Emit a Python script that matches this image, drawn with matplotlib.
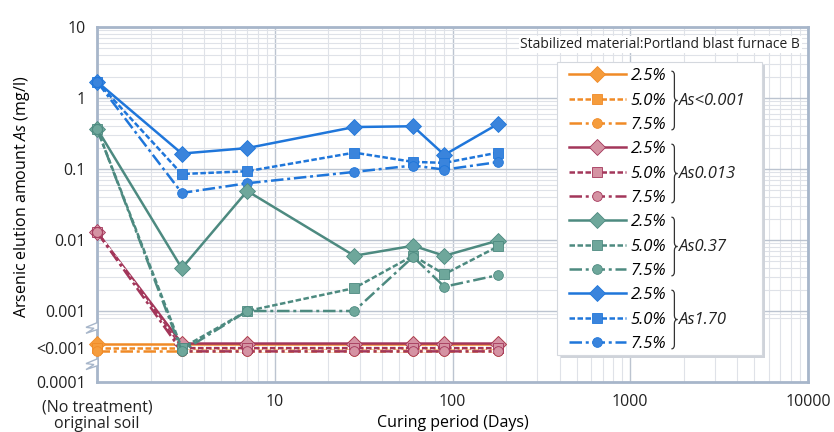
import numpy as np
import matplotlib
matplotlib.use('Agg')
import matplotlib.pyplot as plt
from matplotlib.path import Path
from matplotlib.patches import PathPatch, Rectangle, Polygon
from matplotlib.ticker import FixedLocator, NullFormatter
from matplotlib.transforms import blended_transform_factory

plt.rcParams['font.family'] = ['Open Sans', 'DejaVu Sans']
plt.rcParams['mathtext.fontset'] = 'custom'
plt.rcParams['mathtext.it'] = 'Open Sans:italic'
plt.rcParams['mathtext.rm'] = 'Open Sans'

# "<0.001" results are drawn at this height on the broken log axis
LT = 3e-4

days = [1, 3, 7, 28, 60, 90, 180]
doses = ['2.5%', '5.0%', '7.5%']
groups = ['As<0.001', 'As0.013', 'As0.37', 'As1.70']

# original soil As<0.001
as_lt001_25 = [LT, LT, LT, LT, LT, LT, LT]
as_lt001_50 = [LT, LT, LT, LT, LT, LT, LT]
as_lt001_75 = [LT, LT, LT, LT, LT, LT, LT]
# original soil As0.013
as0013_25 = [0.013, LT, LT, LT, LT, LT, LT]
as0013_50 = [0.013, LT, LT, LT, LT, LT, LT]
as0013_75 = [0.013, LT, LT, LT, LT, LT, LT]
# original soil As0.37
as037_25 = [0.37, 0.004, 0.049, 0.006, 0.0083, 0.006, 0.0098]
as037_50 = [0.37, LT, 0.001, 0.0021, 0.006, 0.0033, 0.0081]
as037_75 = [0.37, LT, 0.001, 0.001, 0.0058, 0.0022, 0.0032]
# original soil As1.70
as170_25 = [1.70, 0.165, 0.197, 0.39, 0.40, 0.158, 0.43]
as170_50 = [1.70, 0.085, 0.093, 0.17, 0.126, 0.122, 0.17]
as170_75 = [1.70, 0.046, 0.063, 0.091, 0.112, 0.098, 0.125]

series = {
    'As<0.001': [as_lt001_25, as_lt001_50, as_lt001_75],
    'As0.013': [as0013_25, as0013_50, as0013_75],
    'As0.37': [as037_25, as037_50, as037_75],
    'As1.70': [as170_25, as170_50, as170_75],
}

line_col = {'As<0.001': '#f08a26', 'As0.013': '#a3365a',
            'As0.37': '#4d8a80', 'As1.70': '#1f76da'}
face_col = {'As<0.001': '#f59c3c', 'As0.013': '#d593a3',
            'As0.37': '#6ea79b', 'As1.70': '#3a84dc'}
dose_style = [
    dict(ls='-', marker='D', ms=8.5),
    dict(ls=(0, (2.2, 1.0)), marker='s', ms=7),
    dict(ls=(0, (5, 1.5, 1.2, 1.5)), marker='o', ms=7),
]
# small visual offset so the overlapping "<0.001" lines stay readable
lt_nudge = [1.16, 1.0, 0.9]

fig = plt.figure(figsize=(8.34, 4.32), dpi=100)
ax = fig.add_axes([97 / 834, 1 - 382 / 432, 711 / 834, 355 / 432])

handles = {}
for g in ['As<0.001', 'As0.013', 'As1.70', 'As0.37']:
    for i, vals in enumerate(series[g]):
        v = np.array(vals, dtype=float)
        y = np.where(v == LT, LT * lt_nudge[i], v)
        st = dose_style[i]
        kw = {}
        if g == 'As0.013' and i > 0:
            kw['gapcolor'] = 'white'
        ln, = ax.plot(days, y, ls=st['ls'], marker=st['marker'], ms=st['ms'],
                      color=line_col[g], mfc=face_col[g], mec=line_col[g],
                      mew=0.6, lw=1.8, zorder=3, clip_on=False, **kw)
        handles[(g, i)] = ln

ax.set_xscale('log')
ax.set_yscale('log')
ax.set_xlim(1, 10000)
ax.set_ylim(1e-4, 10)

ax.xaxis.set_major_locator(FixedLocator([1, 10, 100, 1000, 10000]))
ax.set_xticklabels(['', '10', '100', '1000', '10000'])
ax.xaxis.set_minor_locator(FixedLocator([m * 10 ** k for k in range(4) for m in range(2, 10)]))
ax.xaxis.set_minor_formatter(NullFormatter())

ax.yaxis.set_major_locator(FixedLocator([1e-4, LT, 1e-3, 1e-2, 1e-1, 1, 10]))
ax.set_yticklabels(['0.0001', '<0.001', '0.001', '0.01', '0.1', '1', '10'])
ax.yaxis.set_minor_locator(FixedLocator([8e-4, 9e-4] + [m * 10.0 ** k for k in range(-3, 1) for m in range(2, 10)]))
ax.yaxis.set_minor_formatter(NullFormatter())

ax.tick_params(which='both', length=0, labelsize=11.5, colors='#222222')
ax.tick_params(axis='y', pad=8)
ax.tick_params(axis='x', pad=9)
ax.grid(which='minor', color='#dfe2e8', lw=0.8)
ax.grid(which='major', color='#bcc4d0', lw=1.0)
for gl, yv in zip(ax.yaxis.get_gridlines(), [1e-4, LT, 1e-3, 1e-2, 1e-1, 1, 10]):
    if yv in (1e-4, LT):
        gl.set_visible(False)
ax.set_axisbelow(True)
for s in ax.spines.values():
    s.set_color('#a7b6ca')
    s.set_linewidth(2.0)

# first x position is the untreated original soil
ax.text(1, -0.048, '(No treatment)\noriginal soil',
        transform=blended_transform_factory(ax.transData, ax.transAxes),
        ha='center', va='top', fontsize=11.5, color='#222222', linespacing=1.12)

ax.set_xlabel('Curing period (Days)', fontsize=11.5)
ax.xaxis.set_label_coords(0.5, -0.094)
ax.set_ylabel('Arsenic elution amount $\\it{As}$ (mg/l)', fontsize=11.5)
ax.yaxis.set_label_coords(-0.092, 0.52)

ax.text(0.989, 0.951, 'Stabilized material:Portland blast furnace B', transform=ax.transAxes,
        ha='right', va='center', fontsize=10, color='#222222', zorder=6,
        bbox=dict(facecolor='white', edgecolor='none', pad=1))

# legend panel
ax.add_patch(Rectangle((0.652, 0.067), 0.288, 0.825, transform=ax.transAxes,
                       facecolor='#cfd3da', edgecolor='none', zorder=5, clip_on=False))
ax.add_patch(Rectangle((0.647, 0.076), 0.288, 0.825, transform=ax.transAxes,
                       facecolor='white', edgecolor='#d4d8de', lw=0.8, zorder=5, clip_on=False))

leg_handles = [handles[(g, i)] for g in groups for i in range(3)]
leg_labels = [d for g in groups for d in doses]
leg = ax.legend(leg_handles, leg_labels, loc='upper left', bbox_to_anchor=(0.664, 0.884),
                frameon=False, borderpad=0, borderaxespad=0, handlelength=3.4,
                handletextpad=0.3, labelspacing=0.5, prop={'size': 12, 'style': 'italic'})
leg.set_zorder(7)

fig.canvas.draw()
renderer = fig.canvas.get_renderer()
texts = leg.get_texts()
xr = max(t.get_window_extent(renderer).x1 for t in texts)
for k, g in enumerate(groups):
    b0 = texts[3 * k].get_window_extent(renderer)
    b2 = texts[3 * k + 2].get_window_extent(renderer)
    yt, yb = b0.y1 - 3, b2.y0 + 3
    ym = 0.5 * (yt + yb)
    x0 = xr + 5
    verts = [(x0, yt), (x0 + 3, yt), (x0 + 3, yt - 4), (x0 + 3, ym + 4),
             (x0 + 3, ym), (x0 + 6, ym), (x0 + 3, ym), (x0 + 3, ym - 4),
             (x0 + 3, yb + 4), (x0 + 3, yb), (x0, yb)]
    codes = [Path.MOVETO, Path.CURVE3, Path.CURVE3, Path.LINETO,
             Path.CURVE3, Path.CURVE3, Path.CURVE3, Path.CURVE3,
             Path.LINETO, Path.CURVE3, Path.CURVE3]
    fig.patches.append(PathPatch(Path(verts, codes), transform=None, fill=False,
                                 edgecolor='#333333', lw=0.9, zorder=8))
    fig.text(x0 + 8, ym, g, transform=None, ha='left', va='center',
             fontsize=12, style='italic', color='#222222', zorder=8)

# axis break marks on the y spine
xs = ax.transAxes.transform((0, 0))[0]
for yv in (5.7e-4, 1.76e-4):
    yd = ax.transData.transform((1, yv))[1]
    pts = [(xs + 1, yd + 6), (xs - 11, yd + 1), (xs - 3, yd), (xs - 11, yd - 5), (xs + 1, yd - 1)]
    fig.patches.append(Polygon(pts, closed=True, transform=None, facecolor='white',
                                edgecolor='#a7b6ca', lw=1.0, zorder=9))

fig.savefig('out.png', dpi=100)
